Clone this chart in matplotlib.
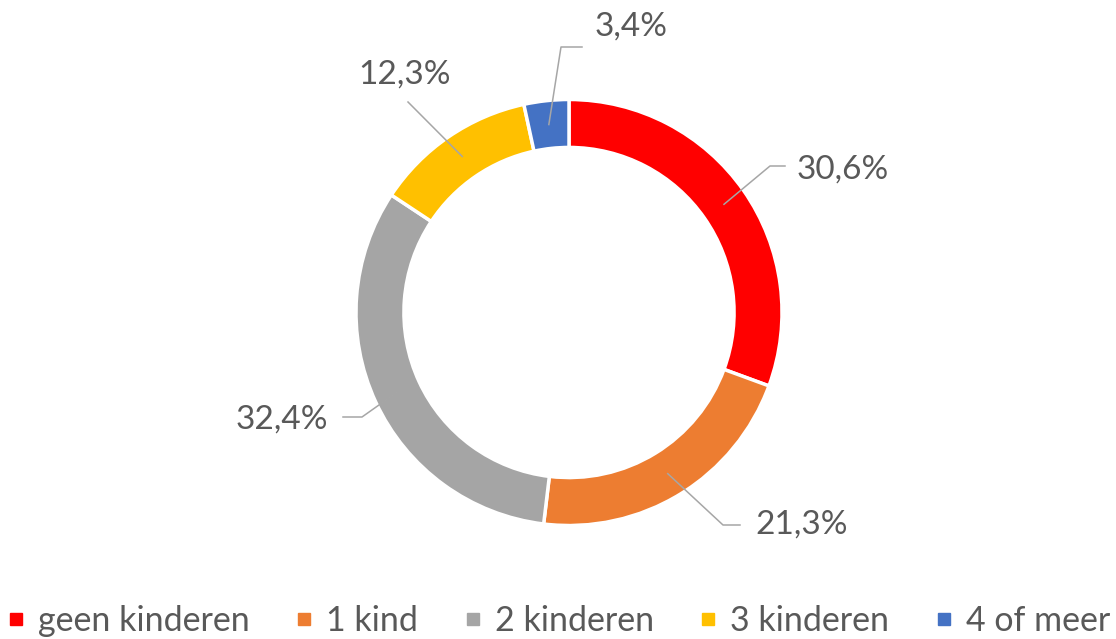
import matplotlib.pyplot as plt
from matplotlib.lines import Line2D
import numpy as np

plt.rcParams['font.family'] = ['Lato', 'DejaVu Sans']

categories = ['geen kinderen', '1 kind', '2 kinderen', '3 kinderen', '4 of meer']
values = [30.6, 21.3, 32.4, 12.3, 3.4]
labels = ['30,6%', '21,3%', '32,4%', '12,3%', '3,4%']
colors = ['#FF0000', '#ED7D31', '#A5A5A5', '#FFC000', '#4472C4']

txt_col = '#595959'
line_col = '#A6A6A6'

W, H = 1116, 639
cx, cy = 569, 639 - 312.5   # centre of donut in pixels (from bottom)
R = 213.0                   # outer radius in pixels

fig = plt.figure(figsize=(W / 100, H / 100), dpi=100)
ax = fig.add_axes([0, 0, 1, 1])

wedges, _ = ax.pie(values, colors=colors, startangle=90, counterclock=False,
                   radius=1, wedgeprops=dict(width=0.225, edgecolor='white', linewidth=2.5))
ax.set_xlim(-cx / R, (W - cx) / R)
ax.set_ylim(-cy / R, (H - cy) / R)
ax.set_aspect('auto')
ax.axis('off')

# leader-line layout (pixels relative to centre): elbow, end, text pos, alignment
layout = [
    ((201, 146.5), (216, 146.5), (228, 142.5), 'left'),
    ((154, -212.5), (171, -212.5), (186, -212.5), 'left'),
    ((-207, -104.5), (-226, -104.5), (-241, -107.5), 'right'),
    ((-161, 210.5), (-161, 210.5), (-164, 237.5), 'center'),
    ((-8, 265.5), (13, 265.5), (26, 285.5), 'left'),
]

rmid = 1 - 0.225 / 2
for w, lab, (elb, end, tp, ha) in zip(wedges, labels, layout):
    ang = np.deg2rad((w.theta1 + w.theta2) / 2)
    x0, y0 = rmid * np.cos(ang), rmid * np.sin(ang)
    xs = [x0, elb[0] / R, end[0] / R]
    ys = [y0, elb[1] / R, end[1] / R]
    ax.plot(xs, ys, color=line_col, lw=1.1)
    ax.text(tp[0] / R, tp[1] / R, lab, ha=ha, va='center', fontsize=24, color=txt_col)

handles = [Line2D([], [], marker='s', ls='', color=c, markersize=8.5) for c in colors]
leg = fig.legend(handles, categories, loc='center', ncol=5, frameon=False,
                 bbox_to_anchor=(0.5, 18 / 639), fontsize=24.5, handlelength=0.6,
                 handletextpad=0.35, columnspacing=1.3, labelcolor=txt_col,
                 borderpad=0, borderaxespad=0)

plt.savefig('out.png', dpi=100)
